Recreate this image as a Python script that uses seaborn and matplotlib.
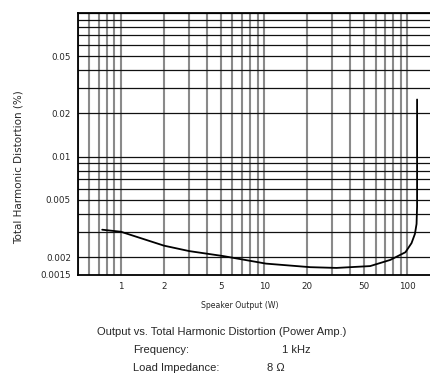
import matplotlib
matplotlib.use('Agg')
import matplotlib.pyplot as plt
import matplotlib.ticker as mticker
import seaborn as sns
import pandas as pd

# THD curve
output_w = [0.74, 1.0, 2.0, 3.0, 5.2, 10.3, 21, 32, 55, 76, 97, 107, 113, 116, 117, 117, 117]
thd_pct = [0.0031, 0.0030, 0.0024, 0.0022, 0.00203, 0.0018, 0.0017, 0.00168, 0.00173,
           0.00191, 0.00216, 0.0025, 0.0029, 0.0034, 0.0045, 0.01, 0.025]

x_ticks = [1, 2, 5, 10, 20, 50, 100]
x_tick_labels = ['1', '2', '5', '10', '20', '50', '100']
y_ticks = [0.0015, 0.002, 0.005, 0.01, 0.02, 0.05]
y_tick_labels = ['0.0015', '0.002', '0.005', '0.01', '0.02', '0.05']

df = pd.DataFrame({'output': output_w, 'thd': thd_pct})

sns.set_style('white')
plt.rcParams['font.family'] = ['DejaVu Sans']

fig = plt.figure(figsize=(4.3, 3.86), dpi=100)
ax = fig.add_axes([0.181, 0.2876, 0.819, 0.6786])

ax.set_xscale('log')
ax.set_yscale('log')
ax.set_xlim(0.5, 144)
ax.set_ylim(0.0015, 0.1)

# grid lines at every log step
xgrid = [v * d for d in [0.1, 1, 10, 100] for v in range(1, 10) if 0.5 <= v * d <= 144]
ygrid = [v * d for d in [0.001, 0.01] for v in range(1, 10) if 0.0015 <= v * d <= 0.1] + [0.1]
for gx in xgrid:
    ax.axvline(gx, color='#8a8a8a', lw=1.5, zorder=1)
for gy in ygrid:
    ax.axhline(gy, color='#111111', lw=0.9, zorder=1)

sns.lineplot(data=df, x='output', y='thd', ax=ax, color='black', lw=1.3,
             sort=False, estimator=None, errorbar=None, zorder=3)

ax.xaxis.set_major_locator(mticker.FixedLocator(x_ticks))
ax.xaxis.set_major_formatter(mticker.FixedFormatter(x_tick_labels))
ax.xaxis.set_minor_locator(mticker.NullLocator())
ax.yaxis.set_major_locator(mticker.FixedLocator(y_ticks))
ax.yaxis.set_major_formatter(mticker.FixedFormatter(y_tick_labels))
ax.yaxis.set_minor_locator(mticker.NullLocator())
ax.tick_params(length=0, labelsize=6.3, pad=5)

for side in ['left', 'bottom', 'top']:
    ax.spines[side].set_color('black')
    ax.spines[side].set_linewidth(1.3)
ax.spines['right'].set_visible(False)

ax.set_xlabel('Speaker Output (W)', fontsize=5.6)
ax.xaxis.set_label_coords(0.46, -0.1)
ax.set_ylabel('Total Harmonic Distortion (%)', fontsize=7.5)
ax.yaxis.set_label_coords(-0.155, 0.41)

cap = dict(fontsize=8, va='center', ha='left', family='Liberation Sans')
fig.text(0.225, 0.14, 'Output vs. Total Harmonic Distortion (Power Amp.)', **cap)
fig.text(0.309, 0.093, 'Frequency:', **cap)
fig.text(0.655, 0.093, '1 kHz', **cap)
fig.text(0.309, 0.047, 'Load Impedance:', **cap)
fig.text(0.621, 0.047, '8 \u03a9', **cap)

fig.savefig('out.png', dpi=100)
